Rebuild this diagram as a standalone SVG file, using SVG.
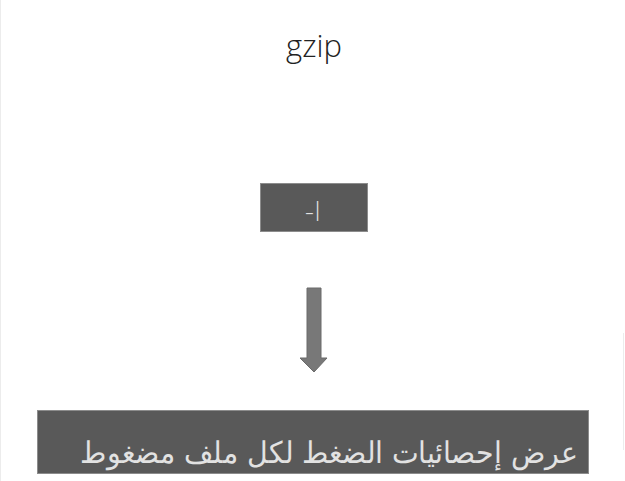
<svg xmlns="http://www.w3.org/2000/svg" width="625" height="481" viewBox="0 0 625 481">
<style>
.box{fill:#595959;stroke:#8c8c8c;stroke-width:1}
.lbl{fill:#e2e2e2;font-family:"DejaVu Sans","Noto Sans",sans-serif;font-weight:300}
.title{fill:#222;font-family:"Open Sans","Noto Sans",sans-serif;font-weight:300;font-size:31px}
</style>
<rect x="0" y="0" width="625" height="481" fill="#ffffff"/>
<line x1="0.5" y1="0" x2="0.5" y2="481" stroke="#ececec" stroke-width="1"/>
<line x1="623.5" y1="333" x2="623.5" y2="450" stroke="#ececec" stroke-width="1"/>
<g id="title">
<text class="title" x="314" y="57" text-anchor="middle">gzip</text>
</g>
<g id="node-option">
<rect class="box" x="260.5" y="183.5" width="107" height="48"/>
<text class="lbl" x="313" y="221" font-size="26" text-anchor="middle" direction="ltr">-l</text>
</g>
<g id="connectors">
<path d="M307,288 L321,288 L321,358 L327,358 L314,372 L300,358 L307,358 Z" fill="#787878" stroke="#6a6a6a" stroke-width="1"/>
</g>
<g id="node-description">
<rect class="box" x="37.5" y="410.5" width="551" height="63"/>
<text class="lbl" x="329" y="463" font-size="30" text-anchor="middle" direction="rtl" textLength="498" lengthAdjust="spacingAndGlyphs">عرض إحصائيات الضغط لكل ملف مضغوط</text>
</g>
</svg>
